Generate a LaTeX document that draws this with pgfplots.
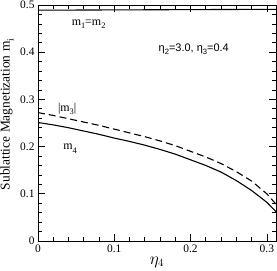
\documentclass[border=0pt]{standalone}
\usepackage{fontspec}
\setmainfont{Liberation Serif}
\newfontfamily\sansf{Liberation Sans}
\usepackage{graphicx}
\usepackage{pgfplots}
\pgfplotsset{compat=1.18}
\newcommand\sbs[1]{\raisebox{-0.3em}{\scalebox{0.7}{#1}}}
\begin{document}
\begin{tikzpicture}
\begin{axis}[
  name=ax,
  scale only axis,
  width=238bp, height=236bp,
  xmin=0, xmax=0.312, ymin=0, ymax=0.5,
  xtick={0,0.1,0.2,0.3}, ytick={0,0.1,0.2,0.3,0.4,0.5},
  minor x tick num=4, minor y tick num=4,
  xticklabels={0,0.1,0.2,0.3},
  yticklabels={0,0.1,0.2,0.3,0.4,0.5},
  tick align=inside,
  major tick length=7bp, minor tick length=4bp,
  every tick/.style={black, line width=0.7pt},
  axis line style={line width=0.9pt},
  tick label style={font=\fontsize{11.5}{13}\selectfont},
  /pgf/number format/assume math mode=true,
  xlabel={$\eta_4$},
  ylabel={Sublattice Magnetization m\sbs{i}},
  xlabel style={font=\fontsize{16}{18}\selectfont, at={(axis description cs:0.5,-0.0975)}, anchor=base},
  ylabel style={font=\fontsize{13.5}{16}\selectfont, at={(axis description cs:-0.13,0.536)}, anchor=center, rotate=0},
  clip=true,
]
\addplot[black, line width=1.1pt] coordinates {
(0,0.4890) (0.05,0.4893) (0.1,0.4896) (0.15,0.4899) (0.2,0.4902) (0.25,0.4905) (0.312,0.4908)
};
\addplot[black, line width=1.1pt, dash pattern=on 7pt off 4pt] coordinates {
(0,0.272) (0.02,0.266) (0.04,0.259) (0.06,0.252) (0.08,0.245) (0.10,0.237) (0.12,0.229) (0.14,0.221) (0.16,0.212) (0.18,0.202) (0.20,0.190) (0.22,0.178) (0.24,0.164) (0.26,0.147) (0.28,0.127) (0.30,0.100) (0.312,0.078)
};
\addplot[black, line width=1.1pt] coordinates {
(0,0.251) (0.02,0.246) (0.04,0.240) (0.06,0.233) (0.08,0.226) (0.10,0.218) (0.12,0.211) (0.14,0.203) (0.16,0.194) (0.18,0.184) (0.20,0.172) (0.22,0.160) (0.24,0.146) (0.26,0.128) (0.28,0.107) (0.30,0.082) (0.312,0.062)
};
\node[anchor=base west, font=\fontsize{12}{14}\selectfont, inner sep=0pt] at (axis cs:0.044,0.4576) {m\sbs{1}=m\sbs{2}};
\node[anchor=base west, font=\fontsize{12}{14}\selectfont, inner sep=0pt] at (axis cs:0.026,0.2754) {|m\sbs{3}|};
\node[anchor=base west, font=\fontsize{12}{14}\selectfont, inner sep=0pt] at (axis cs:0.033,0.194) {m\sbs{4}};
\node[anchor=base west, font=\sansf\fontsize{11}{13}\selectfont, inner sep=0pt] at (axis cs:0.158,0.4025) {η\sbs{2}=3.0, η\sbs{3}=0.4};
\end{axis}
\pgfresetboundingbox
\path ([shift={(-38bp,-30bp)}]ax.south west) rectangle ([shift={(1bp,5bp)}]ax.north east);
\end{tikzpicture}
\end{document}
